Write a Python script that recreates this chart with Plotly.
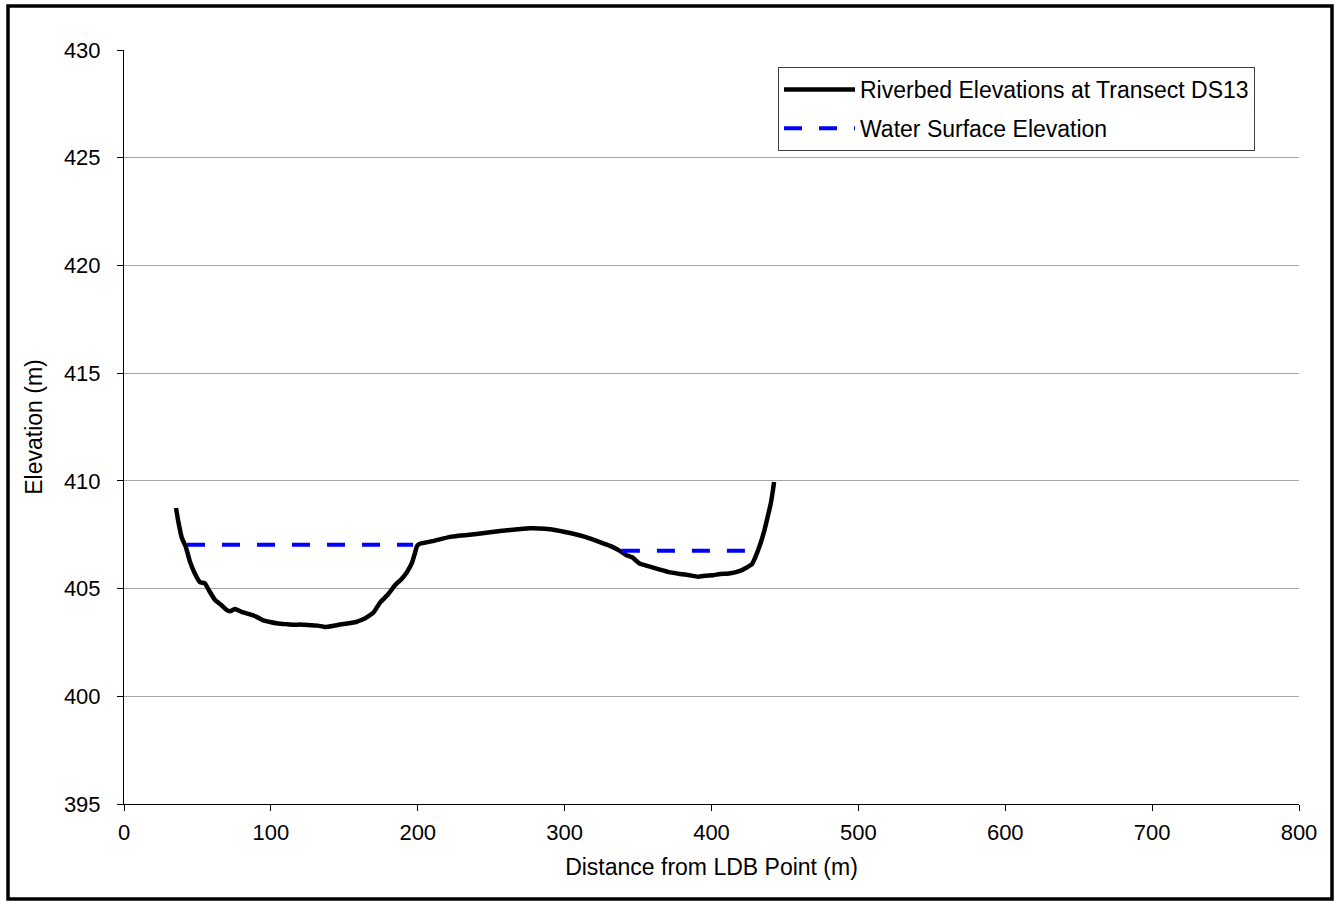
import plotly.graph_objects as go

# Riverbed profile (distance m, elevation m)
bed_x = [35.4, 37.0, 39.4, 42.0, 44.9, 47.9, 51.7, 55.1, 58.0, 62.0, 66.0, 70.0, 72.2, 75.6,
         80.0, 85.8, 90.0, 94.0, 99.4, 105.0, 110.0, 115.0, 120.0, 126.6, 132.0, 136.9, 142.0,
         147.0, 152.0, 158.0, 162.0, 166.0, 170.0, 174.3, 180.0, 184.5, 189.0, 192.5, 196.1,
         198.1, 199.5, 201.5, 210.0, 222.0, 240.0, 256.0, 270.0, 276.4, 286.6, 295.0, 303.7,
         314.0, 324.0, 331.0, 337.6, 342.0, 346.0, 351.3, 358.0, 364.9, 372.0, 378.5, 385.0,
         390.8, 396.0, 401.0, 405.8, 412.0, 419.4, 424.0, 427.6, 429.5, 433.0, 436.0, 438.5,
         440.5, 441.9, 442.6]
bed_y = [408.74, 408.1, 407.35, 406.95, 406.25, 405.75, 405.3, 405.25, 404.9, 404.47, 404.25, 404.0,
         403.95, 404.05, 403.92, 403.8, 403.7, 403.55, 403.45, 403.38, 403.35, 403.32, 403.33, 403.3,
         403.28, 403.22, 403.26, 403.33, 403.38, 403.45, 403.55, 403.7, 403.9, 404.35, 404.75, 405.15,
         405.45, 405.75, 406.2, 406.65, 406.98, 407.08, 407.2, 407.4, 407.53, 407.67, 407.77, 407.8,
         407.78, 407.7, 407.58, 407.4, 407.16, 406.98, 406.75, 406.55, 406.45, 406.15, 406.02, 405.88,
         405.75, 405.68, 405.62, 405.55, 405.6, 405.62, 405.68, 405.7, 405.82, 405.98, 406.14, 406.4,
         407.02, 407.7, 408.4, 409.0, 409.6, 409.95]

# Water surface segments (None separates them)
ws_x = [42.9, 196.8, None, 339.0, 424.9]
ws_y = [407.03, 407.03, None, 406.75, 406.75]

x_ticks = [0, 100, 200, 300, 400, 500, 600, 700, 800]
y_ticks = [395, 400, 405, 410, 415, 420, 425, 430]

fig = go.Figure()
fig.add_trace(go.Scatter(x=bed_x, y=bed_y, mode="lines",
                         name="Riverbed Elevations at Transect DS13", legendgroup="a",
                         line=dict(color="black", width=4.5, shape="spline", smoothing=0.3)))
fig.add_trace(go.Scatter(x=ws_x, y=ws_y, mode="lines", name="Water Surface Elevation",
                         connectgaps=False, legendgroup="b",
                         line=dict(color="#0000ff", width=4, dash="18px,17px")))

font = "Liberation Sans, Arial, sans-serif"
fig.update_layout(
    width=1340, height=901,
    margin=dict(l=124, r=41, t=50, b=97),
    paper_bgcolor="white", plot_bgcolor="white",
    font=dict(family=font, size=22, color="black"),
    showlegend=True,
    legend=dict(x=0.5566, y=0.9775, xanchor="left", yanchor="top",
                bordercolor="#404040", borderwidth=1, bgcolor="white",
                font=dict(size=23), tracegroupgap=6, itemwidth=71),
    xaxis=dict(range=[0, 800], tickvals=x_ticks, ticks="outside", ticklen=6,
               tickcolor="black", showline=True, linecolor="black", linewidth=1,
               showgrid=False, zeroline=False, tickfont=dict(size=22),
               ticklabelstandoff=3,
               title=dict(text="Distance from LDB Point (m)", font=dict(size=23), standoff=14)),
    yaxis=dict(range=[395, 430], tickvals=y_ticks, ticks="outside", ticklen=6,
               tickcolor="black", showline=True, linecolor="black", linewidth=1,
               showgrid=True, gridcolor="#a6a6a6", gridwidth=1, zeroline=False,
               tickfont=dict(size=22), ticklabelstandoff=12,
               title=dict(text="Elevation (m)", font=dict(size=23), standoff=14)),
    shapes=[dict(type="rect", xref="paper", yref="paper",
                 x0=(8 - 124) / 1175, x1=(1332 - 124) / 1175,
                 y0=(804 - 899) / 754, y1=(804 - 6) / 754,
                 line=dict(color="black", width=3.5), fillcolor="rgba(0,0,0,0)",
                 layer="above")],
)

fig.write_html("out.html")
